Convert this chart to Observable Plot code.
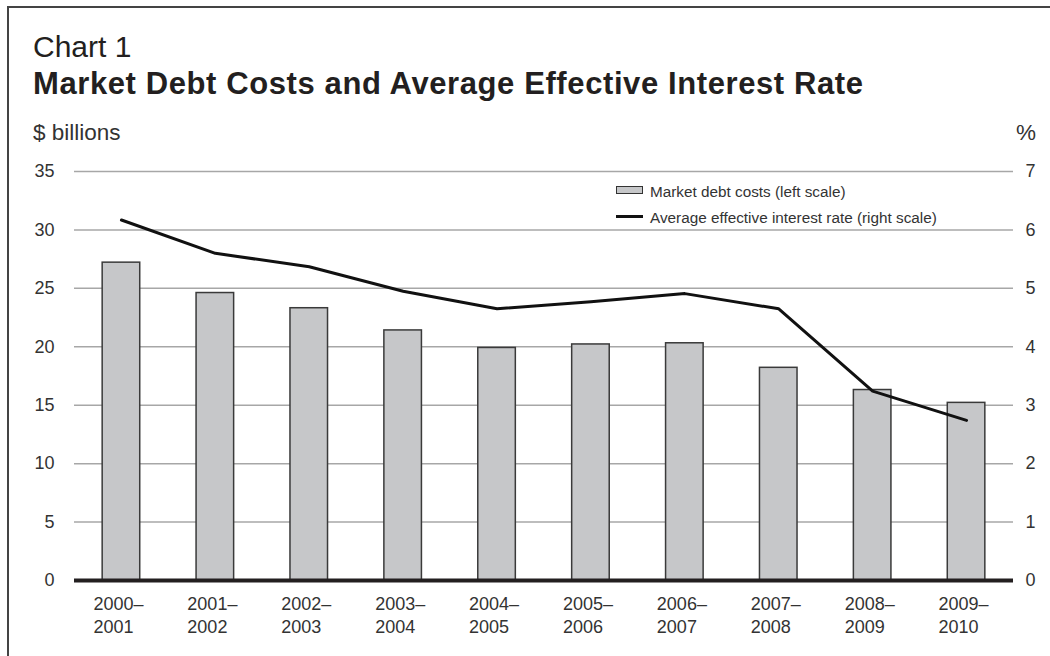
<!DOCTYPE html>
<html>
<head>
<meta charset="utf-8">
<script src="https://cdn.jsdelivr.net/npm/d3@7"></script>
<script src="https://cdn.jsdelivr.net/npm/@observablehq/plot@0.6"></script>
<style>
  html, body { margin: 0; padding: 0; background: #fff; }
  body { width: 1050px; height: 656px; position: relative; overflow: hidden; font-family: "Liberation Sans", Arial, sans-serif; color: #231f20; }
  .abs { position: absolute; white-space: nowrap; line-height: 1; }
  #frame { position: absolute; left: 7px; top: 6px; width: 1100px; height: 700px; border-left: 2px solid #444; border-top: 2px solid #444; }
  #chart { position: absolute; left: 0; top: 150px; }
  .sw-bar { position: absolute; width: 27px; height: 8px; background: #c6c7c9; border: 1px solid #333; box-sizing: border-box; }
  .sw-line { position: absolute; width: 27px; height: 3px; background: #111; }
</style>
</head>
<body>
<div id="frame"></div>
<div class="abs" style="left:33px; top:32px; font-size:30px; color:#231f20;">Chart 1</div>
<div class="abs" style="left:33px; top:68px; font-size:31px; font-weight:bold; letter-spacing:0.6px; color:#231f20;">Market Debt Costs and Average Effective Interest Rate</div>
<div class="abs" style="left:33px; top:122px; font-size:22.5px; color:#333;">$ billions</div>
<div class="abs" style="left:1016px; top:122px; font-size:22.5px; color:#333;">%</div>
<div id="chart"></div>
<div class="sw-bar" style="left:616px; top:186px;"></div>
<div class="abs" style="left:650px; top:184px; font-size:15.3px; color:#333;">Market debt costs (left scale)</div>
<div class="sw-line" style="left:616px; top:215px;"></div>
<div class="abs" style="left:650px; top:210px; font-size:15.3px; color:#333;">Average effective interest rate (right scale)</div>
<script>
const periods = ["2000–2001","2001–2002","2002–2003","2003–2004","2004–2005","2005–2006","2006–2007","2007–2008","2008–2009","2009–2010"];
const periodLabels = ["2000–\n2001","2001–\n2002","2002–\n2003","2003–\n2004","2004–\n2005","2005–\n2006","2006–\n2007","2007–\n2008","2008–\n2009","2009–\n2010"];
const marketDebtCosts = [27.2, 24.6, 23.3, 21.4, 19.9, 20.2, 20.3, 18.2, 16.3, 15.2];
const interestRate = [6.17, 5.6, 5.37, 4.95, 4.65, 4.77, 4.91, 4.65, 3.24, 2.74];
const leftTicks = [0, 5, 10, 15, 20, 25, 30, 35];
const ratio = 5; // 7% on the right = 35 on the left

const data = periods.map((p, i) => ({period: p, label: periodLabels[i], cost: marketDebtCosts[i], rate: interestRate[i]}));

const chart = Plot.plot({
  width: 1050,
  height: 506,
  marginLeft: 74,
  marginRight: 37,
  marginTop: 21,
  marginBottom: 76,
  style: {fontFamily: "'Liberation Sans', Arial, sans-serif", fontSize: "18px", color: "#333", background: "transparent", overflow: "visible"},
  x: {type: "band", domain: periods, paddingInner: 0.6, paddingOuter: 0.3, round: false, axis: null},
  y: {domain: [0, 35], axis: null},
  marks: [
    Plot.ruleY(leftTicks.filter(d => d > 0), {stroke: "#a7a7a7", strokeWidth: 1.5}),
    Plot.barY(data, {x: "period", y: "cost", fill: "#c6c7c9", stroke: "#3a3a3a", strokeWidth: 1.5}),
    Plot.ruleY([0], {stroke: "#231f20", strokeWidth: 4}),
    Plot.line(data, {x: "period", y: d => d.rate * ratio, stroke: "#111", strokeWidth: 3}),
    Plot.axisY({anchor: "left", ticks: leftTicks, tickSize: 0, tickPadding: 20, label: null, fill: "#333"}),
    Plot.axisY({anchor: "right", ticks: leftTicks, tickSize: 0, tickPadding: 12, label: null, textAnchor: "start", tickFormat: d => String(d / ratio), fill: "#333"}),
    Plot.text(data, {x: "period", y: 0, text: "label", textAnchor: "start", lineAnchor: "top", dx: -28, dy: 13, lineHeight: 1.28, fontSize: 18, fill: "#333"})
  ]
});
document.getElementById("chart").appendChild(chart);
</script>
</body>
</html>
